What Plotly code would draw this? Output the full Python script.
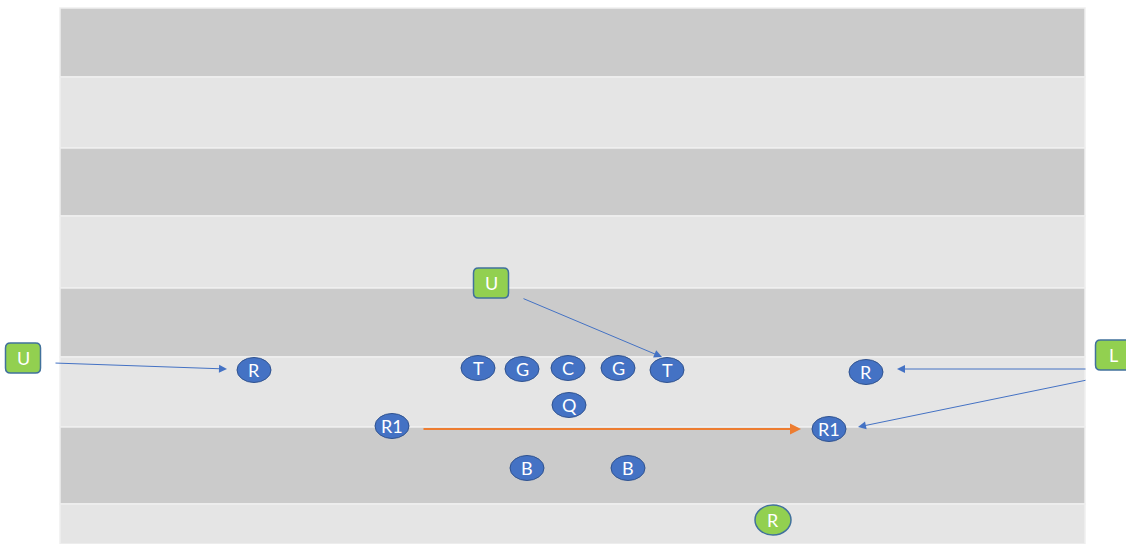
import plotly.graph_objects as go

# Field bands (pixel space of the diagram)
band_edges = [8, 77, 148, 216, 288, 357, 427, 504, 544]
band_colors = ["#CBCBCB", "#E5E5E5"]
field_x = [60, 1085]

# Offensive players (blue ellipses)
player_labels = ["R", "T", "G", "C", "G", "T", "R", "Q", "R1", "R1", "B", "B"]
player_x = [254, 478, 522, 568, 618, 667, 866, 569, 392, 829, 527, 628]
player_y = [370, 368, 369, 368, 368, 370, 372, 405, 426, 429, 468, 468]

# Green squares (defenders)
coach_labels = ["U", "U", "L"]
coach_x = [23, 491, 1113]
coach_y = [358, 283, 355]

# Green circle
circle_label = ["R"]
circle_x = [773]
circle_y = [520]

# Routes: start -> end
route_x0 = [54, 522, 1087, 1087, 422]
route_y0 = [363, 298, 369, 380, 429]
route_x1 = [227, 662, 897, 858, 801]
route_y1 = [369, 357, 369, 427, 429]
route_colors = ["#4472C4", "#4472C4", "#4472C4", "#4472C4", "#ED7D31"]
route_widths = [1, 1, 1, 1, 2]


def rounded_rect(x0, y0, x1, y1, r):
    return (f"M {x0 + r},{y0} L {x1 - r},{y0} Q {x1},{y0} {x1},{y0 + r} "
            f"L {x1},{y1 - r} Q {x1},{y1} {x1 - r},{y1} L {x0 + r},{y1} "
            f"Q {x0},{y1} {x0},{y1 - r} L {x0},{y0 + r} Q {x0},{y0} {x0 + r},{y0} Z")


fig = go.Figure()
shapes = []
for i in range(len(band_edges) - 1):
    shapes.append(dict(type="rect", xref="x", yref="y",
                       x0=field_x[0], x1=field_x[1],
                       y0=band_edges[i], y1=band_edges[i + 1],
                       fillcolor=band_colors[i % 2],
                       line=dict(color="#EFEFEF", width=1.5), layer="below"))

PW, PH = 34, 25
for x, y in zip(player_x, player_y):
    shapes.append(dict(type="circle", xref="x", yref="y",
                       x0=x - PW / 2, x1=x + PW / 2, y0=y - PH / 2, y1=y + PH / 2,
                       fillcolor="#4472C4", line=dict(color="#2F528F", width=1)))

SW, SH = 35, 30
for x, y in zip(coach_x, coach_y):
    shapes.append(dict(type="path", xref="x", yref="y",
                       path=rounded_rect(x - SW / 2, y - SH / 2, x + SW / 2, y + SH / 2, 5),
                       fillcolor="#92D050", line=dict(color="#41719C", width=1.5)))

CW, CH = 36, 30
for x, y in zip(circle_x, circle_y):
    shapes.append(dict(type="circle", xref="x", yref="y",
                       x0=x - CW / 2, x1=x + CW / 2, y0=y - CH / 2, y1=y + CH / 2,
                       fillcolor="#92D050", line=dict(color="#41719C", width=1.5)))

annotations = []
for a, b, c, d, col, w in zip(route_x0, route_y0, route_x1, route_y1, route_colors, route_widths):
    annotations.append(dict(x=c, y=d, ax=a, ay=b, xref="x", yref="y", axref="x", ayref="y",
                            showarrow=True, arrowhead=2, arrowsize=1.6 if w == 1 else 1.1,
                            arrowwidth=w, arrowcolor=col, text=""))

font = dict(family="Lato, Open Sans, sans-serif", size=18, color="white")
for lab, x, y in zip(player_labels + coach_labels + circle_label,
                     player_x + coach_x + circle_x,
                     player_y + coach_y + circle_y):
    annotations.append(dict(x=x, y=y, xref="x", yref="y", text=lab, showarrow=False, font=font))

fig.add_trace(go.Scatter(x=[0], y=[0], mode="markers", marker=dict(opacity=0), hoverinfo="skip",
                         showlegend=False))

fig.update_layout(
    width=1126, height=544, margin=dict(l=0, r=0, t=0, b=0),
    paper_bgcolor="white", plot_bgcolor="white",
    xaxis=dict(range=[0, 1126], visible=False, fixedrange=True),
    yaxis=dict(range=[544, 0], visible=False, fixedrange=True),
    shapes=shapes, annotations=annotations, showlegend=False,
)
fig.write_html("out.html", config={"displayModeBar": False},
               post_script="document.body.style.margin='0';document.body.style.overflow='hidden';")
